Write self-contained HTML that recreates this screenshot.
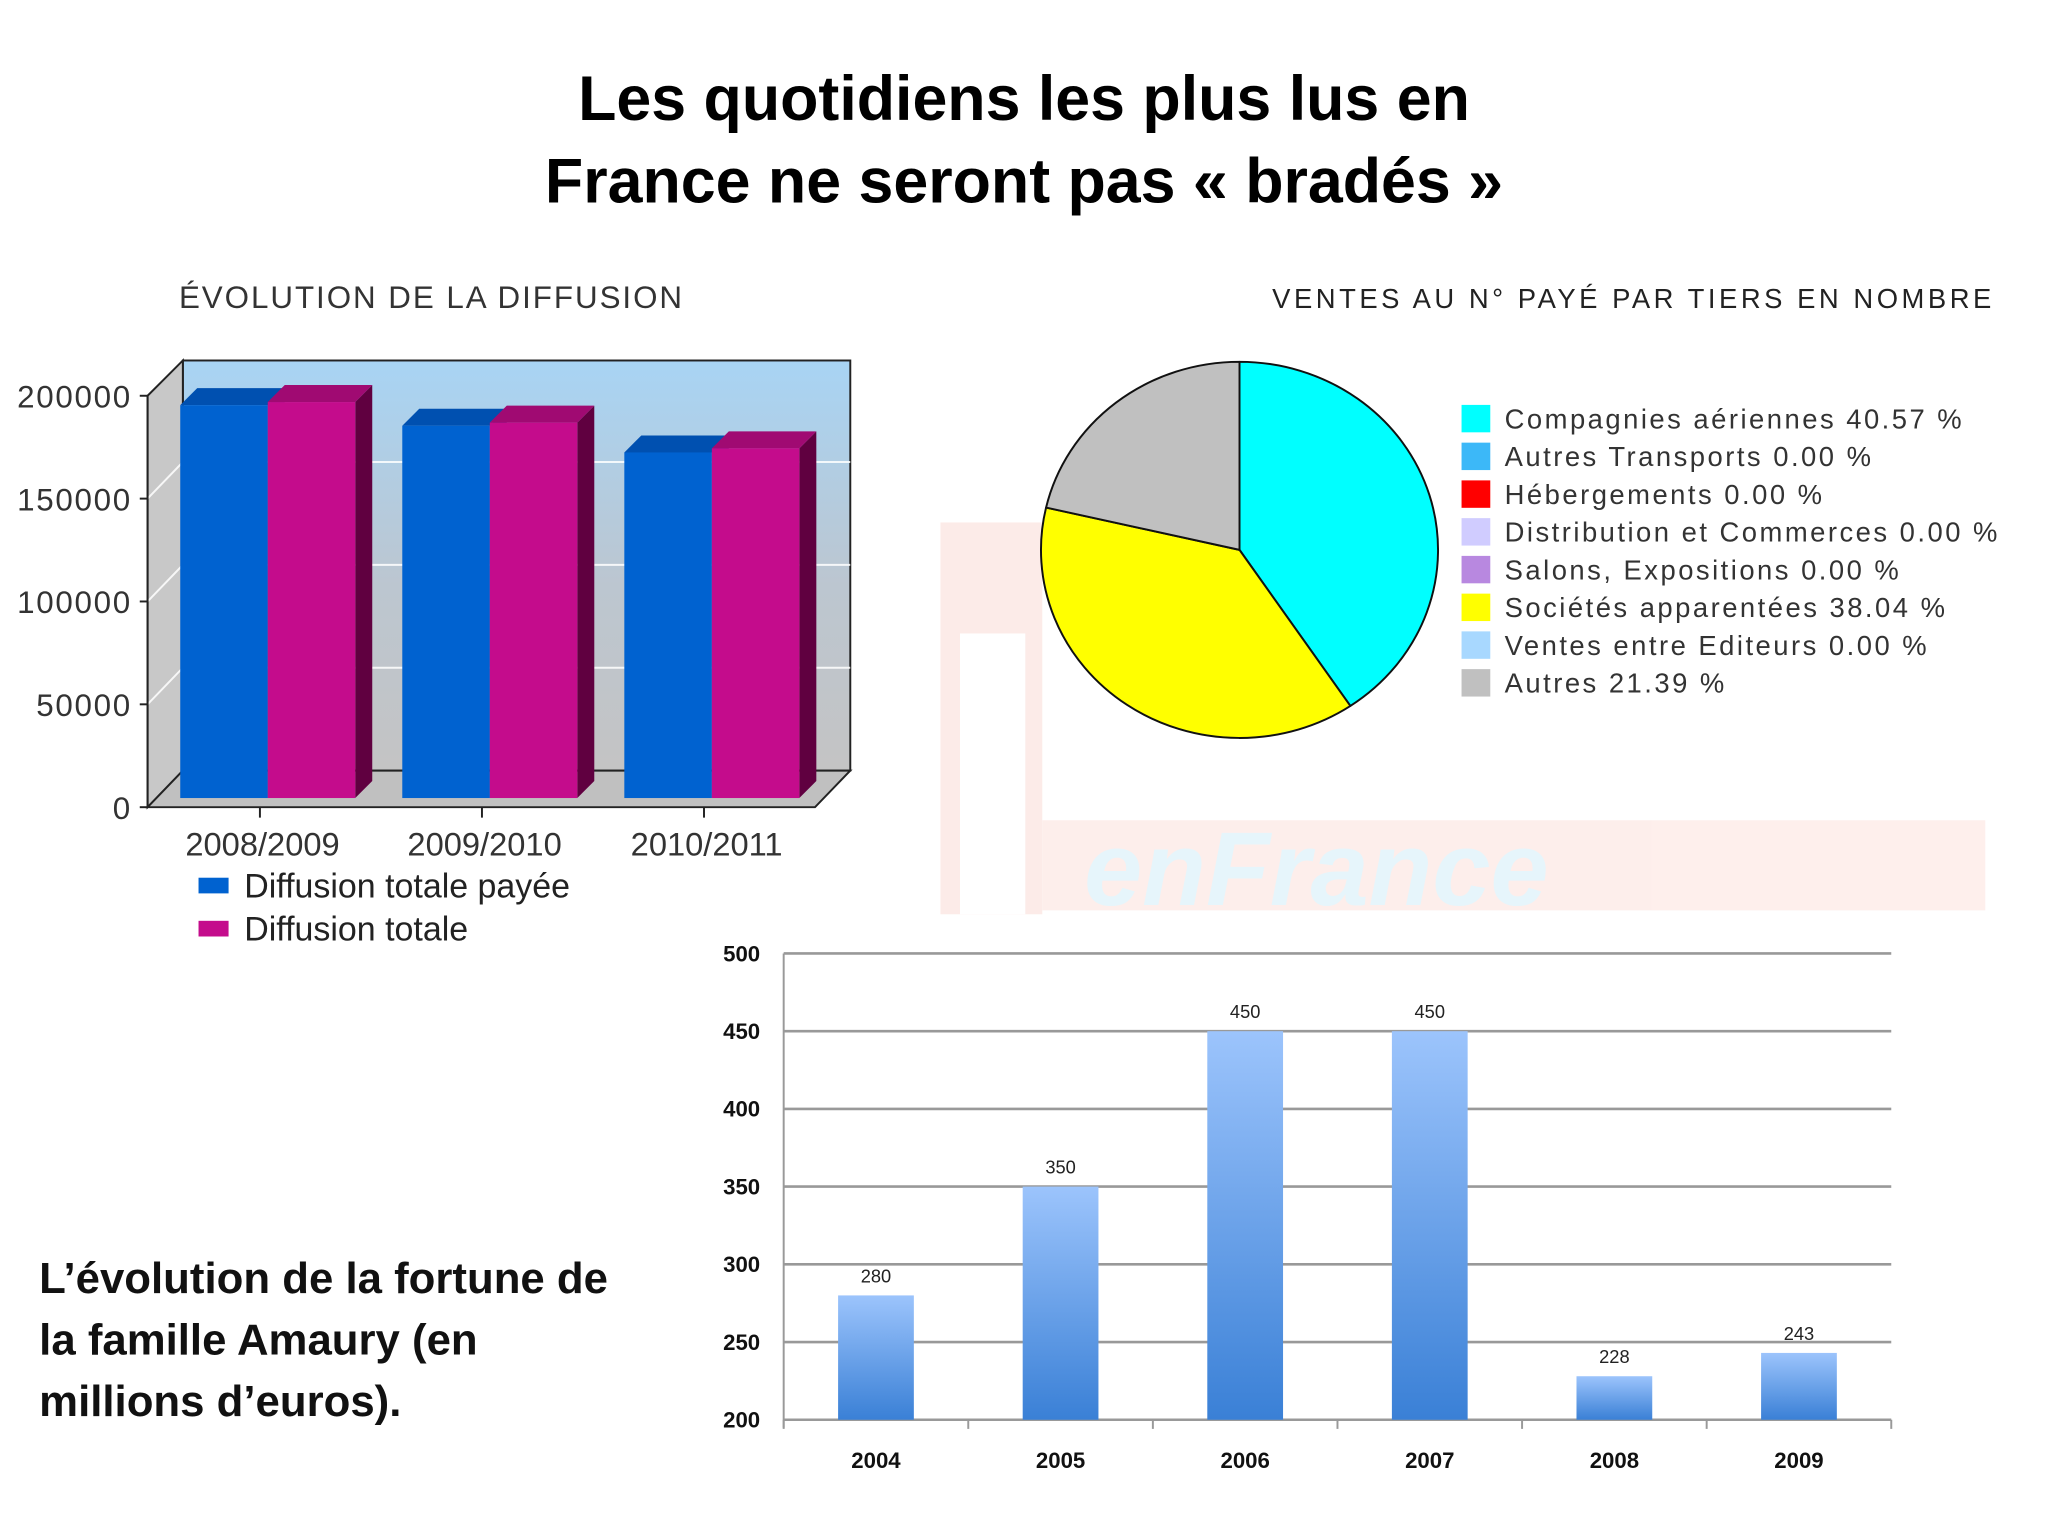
<!DOCTYPE html>
<html><head><meta charset="utf-8"><style>
html,body{margin:0;padding:0;background:#fff}
svg{display:block}
text{font-family:"Liberation Sans",sans-serif}
</style></head><body>
<svg id="s" width="2048" height="1536" viewBox="0 0 1568 1176" xmlns="http://www.w3.org/2000/svg">
<defs>
<linearGradient id="wall" x1="0" y1="0" x2="0" y2="1"><stop offset="0" stop-color="#a8d4f4"/><stop offset="0.55" stop-color="#bcc6d0"/><stop offset="1" stop-color="#c4c4c4"/></linearGradient>
<linearGradient id="bb" x1="0" y1="0" x2="0" y2="1"><stop offset="0" stop-color="#9cc4fc"/><stop offset="1" stop-color="#3a80d6"/></linearGradient>
</defs>
<g opacity="0.35">
<rect x="720" y="400" width="78" height="300" fill="#f8c8c0"/>
<rect x="735" y="485" width="50" height="215" fill="#fff"/>
<rect x="798" y="628" width="722" height="69" fill="#fbd0c8"/>
<text x="830" y="693" font-size="80" font-weight="bold" font-style="italic" fill="#b8e4f4">enFrance</text>
</g>
<text x="784" y="92" font-size="48" font-weight="bold" text-anchor="middle">Les quotidiens les plus lus en</text>
<text x="784" y="155" font-size="48" font-weight="bold" text-anchor="middle">France ne seront pas « bradés »</text>

<g id="c1">
<text x="137" y="236" font-size="24" fill="#333" letter-spacing="1.5">ÉVOLUTION DE LA DIFFUSION</text>
</g>

<g id="c2">
<text x="974" y="236" font-size="21" fill="#222" letter-spacing="2.7">VENTES AU N° PAYÉ PAR TIERS EN NOMBRE</text>
</g>

<g id="c3"></g>

<g font-size="33.5" font-weight="bold" fill="#111">
<text x="30" y="990">L’évolution de la fortune de</text>
<text x="30" y="1037">la famille Amaury (en</text>
<text x="30" y="1084">millions d’euros).</text>
</g>
</svg>
<script>
// ---- Chart 1 data ----
const diffCategories = ["2008/2009","2009/2010","2010/2011"];
const diffPayee = [191000, 181000, 168000];
const diffTotale = [192500, 182500, 170000];
const diffTicks = [0, 50000, 100000, 150000, 200000];
const diffSeriesNames = ["Diffusion totale payée","Diffusion totale"];
// ---- Chart 2 data ----
const pieLabels = ["Compagnies aériennes","Autres Transports","Hébergements","Distribution et Commerces","Salons, Expositions","Sociétés apparentées","Ventes entre Editeurs","Autres"];
const pieValues = [40.57, 0.00, 0.00, 0.00, 0.00, 38.04, 0.00, 21.39];
// ---- Chart 3 data ----
const fortYears = ["2004","2005","2006","2007","2008","2009"];
const fortValues = [280, 350, 450, 450, 228, 243];
const fortTicks = [200, 250, 300, 350, 400, 450, 500];

const NS="http://www.w3.org/2000/svg";
function mk(parent,tag,attrs,txt){const e=document.createElementNS(NS,tag);for(const k in attrs)e.setAttribute(k,attrs[k]);if(txt!==undefined)e.textContent=txt;parent.appendChild(e);return e;}

// ---- Chart 1 ----
(function(){
const g=document.getElementById('c1');
const fx0=113, fy0=618, dx=27, dy=-28, vmax=200000, hpx=315;
const yF=v=>fy0-v/vmax*hpx;
const right=624;
let w=mk(g,'rect',{x:fx0+dx,y:276,width:right-fx0,height:fy0+dy-276,fill:'url(#wall)',stroke:'#222','stroke-width':1.5});

let lw=mk(g,'polygon',{points:`${fx0},${yF(vmax)} ${fx0+dx},276 ${fx0+dx},${fy0+dy} ${fx0},${fy0}`,fill:'#c8c8c8',stroke:'#222','stroke-width':1.5});

let fl=mk(g,'polygon',{points:`${fx0},${fy0} ${fx0+dx},${fy0+dy} ${right+dx},${fy0+dy} ${right},${fy0}`,fill:'#c0c0c0',stroke:'#222','stroke-width':1.5});

diffTicks.forEach(t=>{
  if(t>0&&t<vmax){
    let gl=mk(g,'polyline',{points:`${fx0},${yF(t)} ${fx0+dx},${yF(t)+dy} ${right+dx},${yF(t)+dy}`,fill:'none',stroke:'#fff','stroke-width':1.5,opacity:0.85});
    
  }
  let tk=mk(g,'line',{x1:fx0-6,y1:yF(t),x2:fx0,y2:yF(t),stroke:'#222','stroke-width':1.5});
  
  let tl=mk(g,'text',{x:fx0-12,y:yF(t)+9,'font-size':24,fill:'#333','text-anchor':'end','letter-spacing':1.3},String(t));
  
});
mk(g,'line',{x1:fx0,y1:yF(vmax),x2:fx0,y2:fy0,stroke:'#222','stroke-width':1.5});
const base=611, bw=67, groupW=170, gx0=138, bdx=13, bdy=-13;
const colors=[['#0062d0','#0050b0','#003f94'],['#c40c8c','#a00a72','#600040']];
diffCategories.forEach((c,i)=>{
  [diffPayee[i],diffTotale[i]].forEach((v,s)=>{
    const x=gx0+i*groupW+s*bw, top=base-v/vmax*hpx;
    const [cf,ct,cs]=colors[s];
    let side=mk(g,'polygon',{points:`${x+bw},${top} ${x+bw+bdx},${top+bdy} ${x+bw+bdx},${base+bdy} ${x+bw},${base}`,fill:cs});
    
    let tp=mk(g,'polygon',{points:`${x},${top} ${x+bdx},${top+bdy} ${x+bw+bdx},${top+bdy} ${x+bw},${top}`,fill:ct});
    
    let r=mk(g,'rect',{x:x,y:top,width:bw,height:base-top,fill:cf});
    
  });
  const cx=gx0+i*groupW+bw;
  let xt=mk(g,'line',{x1:cx-6,y1:fy0,x2:cx-6,y2:fy0+8,stroke:'#222','stroke-width':1.5});
  
  let xl=mk(g,'text',{x:cx-4,y:655,'font-size':25,fill:'#333','text-anchor':'middle'},c);
  
});
diffSeriesNames.forEach((n,s)=>{
  const y=678+s*33;
  let sq=mk(g,'rect',{x:152,y:y-6,width:23,height:12,fill:colors[s][0]});
  
  let t=mk(g,'text',{x:187,y:y+9,'font-size':26,fill:'#222'},n);
  
});
})();

// ---- Chart 2 ----
(function(){
const g=document.getElementById('c2');
const cx=949, cy=421, rx=152, ry=144;
const cols=['#00ffff','#3cb8f8','#ff0000','#d0ccff','#b888e0','#ffff00','#a8d8ff','#c0c0c0'];
const total=pieValues.reduce((a,b)=>a+b,0);
let a=0;
pieValues.forEach((v,i)=>{
  if(v<=0) return;
  const a0=a, a1=a+v/total*2*Math.PI; a=a1;
  const p=t=>[cx+rx*Math.sin(t), cy-ry*Math.cos(t)];
  const [x0,y0]=p(a0),[x1,y1]=p(a1);
  const large=(a1-a0)>Math.PI?1:0;
  let s=mk(g,'path',{d:`M${cx},${cy} L${x0},${y0} A${rx},${ry} 0 ${large} 1 ${x1},${y1} Z`,fill:cols[i],stroke:'#111','stroke-width':1.5,'stroke-linejoin':'round'});
  
});
pieLabels.forEach((l,i)=>{
  const y=320+i*28.9;
  let sq=mk(g,'rect',{x:1119,y:y-10,width:22,height:21,fill:cols[i]});
  
  let t=mk(g,'text',{x:1152,y:y+8,'font-size':21,fill:'#333','letter-spacing':1.9},l+' '+pieValues[i].toFixed(2)+' %');
  
});
})();

// ---- Chart 3 ----
(function(){
const g=document.getElementById('c3');
const x0=600, x1=1448, ytop=730, ybot=1087, vmin=200, vmax=500;
const y=v=>ybot-(v-vmin)/(vmax-vmin)*(ybot-ytop);
const step=(x1-x0)/fortYears.length;
fortTicks.forEach(t=>{
  let gl=mk(g,'line',{x1:x0,y1:y(t),x2:x1,y2:y(t),stroke:'#999','stroke-width':2});
  
  let tl=mk(g,'text',{x:582,y:y(t)+6,'font-size':17,'font-weight':'bold','text-anchor':'end',fill:'#111'},String(t));
  
});
mk(g,'line',{x1:x0,y1:ytop,x2:x0,y2:ybot+6,stroke:'#999','stroke-width':1.5});
fortYears.forEach((yr,i)=>{
  const cx=x0+step*(i+0.5);
  let r=mk(g,'rect',{x:cx-29,y:y(fortValues[i]),width:58,height:ybot-y(fortValues[i]),fill:'url(#bb)'});
  
  let vl=mk(g,'text',{x:cx,y:y(fortValues[i])-10,'font-size':14,'text-anchor':'middle',fill:'#222'},String(fortValues[i]));
  
  let xl=mk(g,'text',{x:cx,y:1124,'font-size':17,'font-weight':'bold','text-anchor':'middle',fill:'#111'},yr);
  
});
for(let i=0;i<=fortYears.length;i++){
  let tk=mk(g,'line',{x1:x0+step*i,y1:ybot,x2:x0+step*i,y2:ybot+7,stroke:'#999','stroke-width':1.5});
  
}
})();
</script>
</body></html>
